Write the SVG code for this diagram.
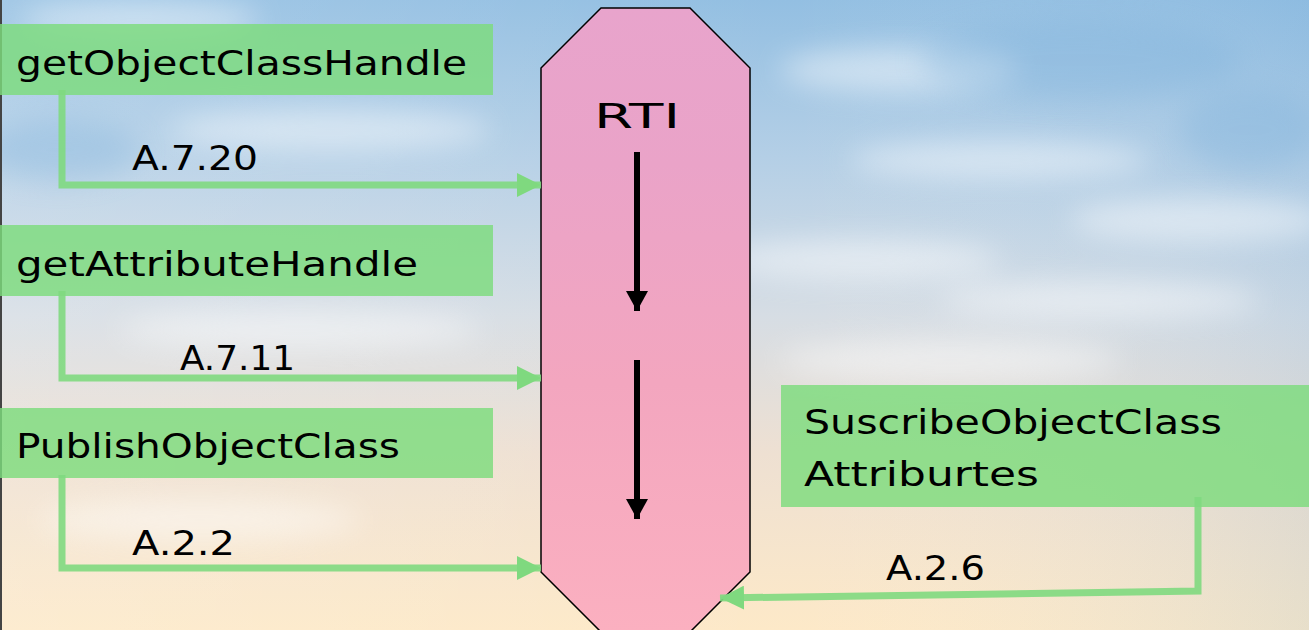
<svg xmlns="http://www.w3.org/2000/svg" width="1309" height="630" viewBox="0 0 1309 630">
<defs>
<linearGradient id="sky" x1="0" y1="0" x2="0" y2="1">
<stop offset="0" stop-color="#93bfe2"/>
<stop offset="0.25" stop-color="#b4cfe6"/>
<stop offset="0.5" stop-color="#d6dde4"/>
<stop offset="0.72" stop-color="#eee0d2"/>
<stop offset="1" stop-color="#fde9c8"/>
</linearGradient>
<linearGradient id="skyH" x1="0" y1="0" x2="1" y2="0">
<stop offset="0" stop-color="#ffffff" stop-opacity="0.15"/>
<stop offset="0.6" stop-color="#ffffff" stop-opacity="0"/>
<stop offset="1" stop-color="#6fa8d8" stop-opacity="0.15"/>
</linearGradient>
<linearGradient id="pink" x1="0" y1="0" x2="0" y2="1">
<stop offset="0" stop-color="#e8a4cc"/>
<stop offset="0.25" stop-color="#eaa3c8"/>
<stop offset="0.6" stop-color="#f3a6bf"/>
<stop offset="1" stop-color="#fbb0c0"/>
</linearGradient>
<filter id="blur" x="-50%" y="-50%" width="200%" height="200%">
<feGaussianBlur stdDeviation="14"/>
</filter>
<marker id="ga" viewBox="0 0 24 24" refX="24" refY="12" markerWidth="24" markerHeight="24" markerUnits="userSpaceOnUse" orient="auto">
<path d="M0,0 L24,12 L0,24 Z" fill="#7fd97f"/>
</marker>
<marker id="ka" viewBox="0 0 20 22" refX="20" refY="11" markerWidth="20" markerHeight="22" markerUnits="userSpaceOnUse" orient="auto">
<path d="M0,0 L20,11 L0,22 Z" fill="#000"/>
</marker>
</defs>
<style>
.box{fill:#7ddc7d;fill-opacity:0.82}
.t{font-family:"Comic Sans MS","DejaVu Sans","Noto Sans",sans-serif;font-size:34px;fill:#000}
.conn{fill:none;stroke:#7fd97f;stroke-opacity:0.9;stroke-width:7}
</style>
<g id="background">
<rect x="0" y="0" width="1309" height="630" fill="url(#sky)"/>
<rect x="0" y="0" width="1309" height="630" fill="url(#skyH)"/>
<g filter="url(#blur)" fill="#ffffff" opacity="0.45">
<ellipse cx="140" cy="20" rx="120" ry="18"/>
<ellipse cx="330" cy="130" rx="160" ry="20"/>
<ellipse cx="900" cy="70" rx="120" ry="22"/>
<ellipse cx="1000" cy="160" rx="150" ry="18"/>
<ellipse cx="1200" cy="220" rx="130" ry="22"/>
<ellipse cx="860" cy="260" rx="140" ry="20"/>
<ellipse cx="300" cy="330" rx="180" ry="20"/>
<ellipse cx="1100" cy="300" rx="160" ry="18"/>
<ellipse cx="950" cy="360" rx="170" ry="20"/>
<ellipse cx="200" cy="520" rx="160" ry="20"/>
</g>
<g filter="url(#blur)" fill="#7fb2dc" opacity="0.35">
<ellipse cx="1080" cy="60" rx="160" ry="40"/>
<ellipse cx="60" cy="150" rx="80" ry="30"/>
<ellipse cx="1250" cy="130" rx="70" ry="40"/>
</g>
<rect x="0" y="0" width="2" height="630" fill="#444"/>
</g>
<g id="rti">
<polygon points="601,8 690,8 750,68 750,572 690,632 601,632 541,572 541,68" fill="url(#pink)" stroke="#000" stroke-width="1.5"/>
<text class="t" x="637" y="128" text-anchor="middle" font-size="40" textLength="86" lengthAdjust="spacingAndGlyphs">RTI</text>
<line x1="637" y1="152" x2="637" y2="311" stroke="#000" stroke-width="6" marker-end="url(#ka)"/>
<line x1="637" y1="360" x2="637" y2="519" stroke="#000" stroke-width="6" marker-end="url(#ka)"/>
</g>
<g id="node-getObjectClassHandle">
<rect class="box" x="0" y="24" width="493" height="71"/>
<text class="t" x="16" y="75" textLength="451" lengthAdjust="spacingAndGlyphs">getObjectClassHandle</text>
</g>
<g id="node-getAttributeHandle">
<rect class="box" x="0" y="225" width="493" height="71"/>
<text class="t" x="16" y="276" textLength="402" lengthAdjust="spacingAndGlyphs">getAttributeHandle</text>
</g>
<g id="node-PublishObjectClass">
<rect class="box" x="0" y="408" width="493" height="70"/>
<text class="t" x="16" y="458" textLength="384" lengthAdjust="spacingAndGlyphs">PublishObjectClass</text>
</g>
<g id="node-SuscribeObjectClassAttributes">
<rect class="box" x="781" y="385" width="528" height="122"/>
<text class="t" x="804" y="434" textLength="418" lengthAdjust="spacingAndGlyphs">SuscribeObjectClass</text>
<text class="t" x="804" y="486" textLength="235" lengthAdjust="spacingAndGlyphs">Attriburtes</text>
</g>
<g id="connectors">
<polyline class="conn" points="62,90 62,185 541,185" marker-end="url(#ga)"/>
<polyline class="conn" points="62,291 62,378 541,378" marker-end="url(#ga)"/>
<polyline class="conn" points="62,475 62,568 541,568" marker-end="url(#ga)"/>
<polyline class="conn" points="1198,497 1198,591 720,598" marker-end="url(#ga)"/>
</g>
<g id="labels">
<text class="t" x="132" y="170" textLength="126" lengthAdjust="spacingAndGlyphs">A.7.20</text>
<text class="t" x="180" y="370" textLength="115" lengthAdjust="spacingAndGlyphs">A.7.11</text>
<text class="t" x="132" y="555" textLength="103" lengthAdjust="spacingAndGlyphs">A.2.2</text>
<text class="t" x="886" y="580" textLength="99" lengthAdjust="spacingAndGlyphs">A.2.6</text>
</g>
</svg>
